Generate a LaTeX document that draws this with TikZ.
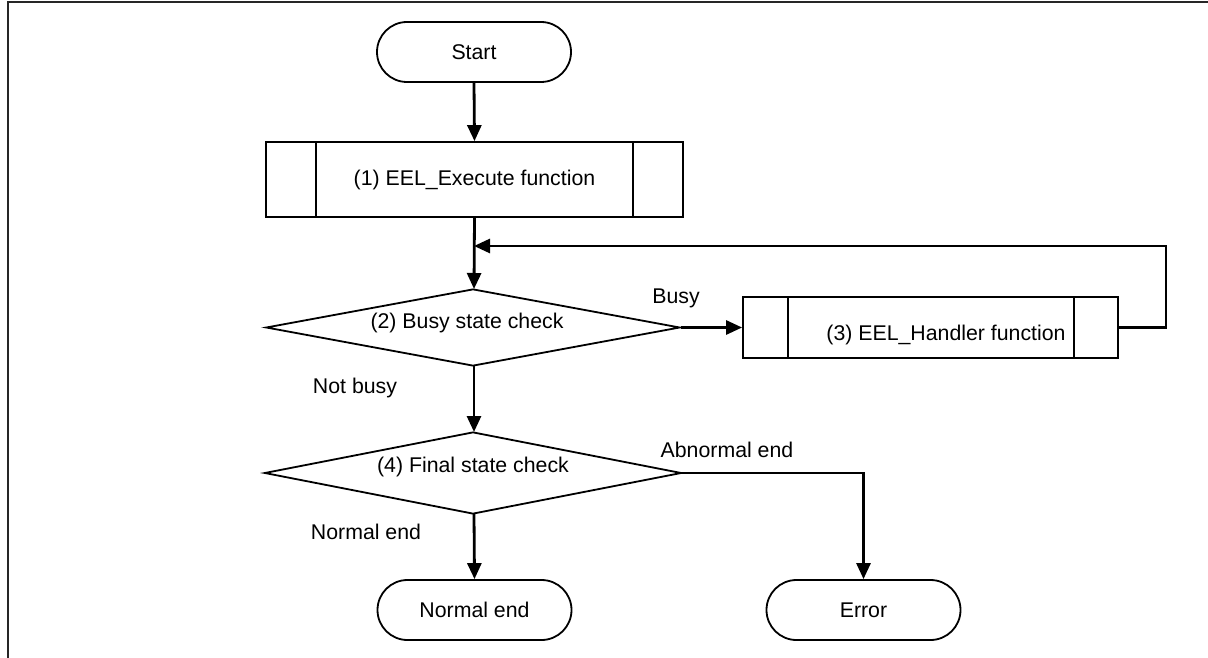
\documentclass[tikz,border=0pt]{standalone}
\usepackage{fontspec}
\setmainfont{Liberation Sans}
\usetikzlibrary{arrows.meta,shapes.geometric,calc}
\tikzset{
  base/.style={font=\fontsize{21.3}{26}\selectfont, inner sep=0pt},
  term/.style={base, draw, line width=1.8pt, rounded corners=30pt, minimum width=194pt, minimum height=60pt},
  proc/.style={base, draw, line width=1.8pt},
  decide/.style={base, draw, line width=1.8pt, shape=diamond, aspect=5},
  lbl/.style={base},
  flow/.style={line width=2.8pt, -{Triangle[length=16pt,width=14pt]}},
  plain/.style={line width=2.8pt},
}
\begin{document}
\begin{tikzpicture}[x=1pt,y=-1pt]
\useasboundingbox (0,0) rectangle (1208,658);

% frame
\draw[line width=2.6pt, black!85] (8,658) -- (8,2) -- (1208,2);

% nodes
\node[term] (start) at (474,52) {Start};
\node[proc, minimum width=417pt, minimum height=75pt] (b1) at (474.5,179.5) {(1) EEL\_Execute function};
\node[decide, minimum width=414pt, minimum height=77pt] (d2) at (473,327.5) {};
\node[lbl] (t2) at (467,323) {(2) Busy state check};
\node[proc, minimum width=375pt, minimum height=61pt] (b3) at (930.5,327.5) {};
\node[lbl] (t3) at (946,335) {(3) EEL\_Handler function};
\node[decide, minimum width=417pt, minimum height=82pt] (d4) at (473,473) {};
\node[lbl] (t4) at (473,467) {(4) Final state check};
\node[term] (nend) at (474.5,610) {Normal end};
\node[term] (err) at (863.5,610) {Error};

% side bands of the predefined-process boxes
\draw[line width=1.8pt] ($(b1.north west)+(51,0)$) -- ($(b1.south west)+(51,0)$);
\draw[line width=1.8pt] ($(b1.north east)+(-51,0)$) -- ($(b1.south east)+(-51,0)$);
\draw[line width=1.8pt] ($(b3.north west)+(46,0)$) -- ($(b3.south west)+(46,0)$);
\draw[line width=1.8pt] ($(b3.north east)+(-45,0)$) -- ($(b3.south east)+(-45,0)$);

% branch labels
\node[lbl] (lbusy) at (676,298) {Busy};
\node[lbl] (lnot) at (355,388) {Not busy};
\node[lbl] (lnorm) at (366,532) {Normal end};
\node[lbl] (labn) at (727,450) {Abnormal end};

% connectors
\coordinate (lp) at (474,246);
\coordinate (rc) at (1166,246);
\draw[flow] (start.south) -- (b1.north);
\draw[flow] (b1.south) -- (474,289);
\draw[flow] (d2.east) -- (b3.west);
\draw[flow] (b3.east) -| (rc) -- (lp);
\draw[flow] (474,366) -- (474,432);
\draw[flow] (474,514) -- (nend.north);
\draw[flow] (d4.east) -| (err.north);
\end{tikzpicture}
\end{document}
